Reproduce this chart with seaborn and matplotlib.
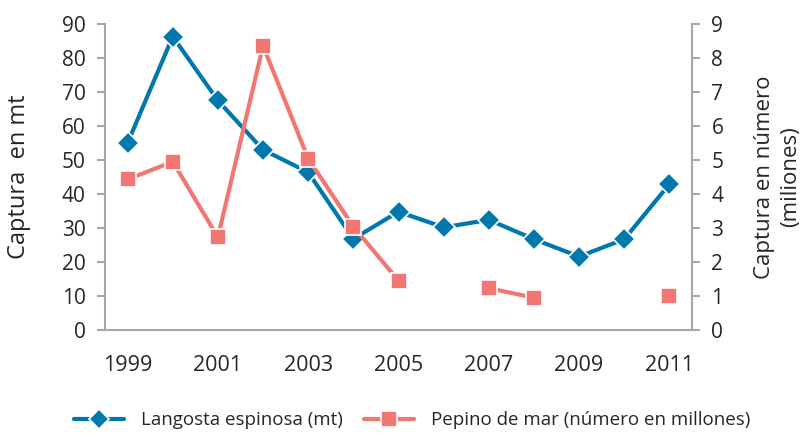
import numpy as np
import pandas as pd
import matplotlib
matplotlib.use("Agg")
import matplotlib.pyplot as plt
import seaborn as sns
from matplotlib.lines import Line2D

years = [1999, 2000, 2001, 2002, 2003, 2004, 2005, 2006, 2007, 2008, 2009, 2010, 2011]
langosta = [55, 86.3, 67.5, 53, 46.4, 26.8, 34.8, 30.2, 32.4, 26.7, 21.6, 26.7, 42.9]
pepino = [4.43, 4.95, 2.73, 8.36, 5.04, 3.04, 1.45, np.nan, 1.23, 0.95, np.nan, np.nan, 1.01]
left_ticks = [0, 10, 20, 30, 40, 50, 60, 70, 80, 90]
right_ticks = [0, 1, 2, 3, 4, 5, 6, 7, 8, 9]
label_years = [1999, 2001, 2003, 2005, 2007, 2009, 2011]

sns.set_theme(style="white")
plt.rcParams['font.family'] = ['Open Sans', 'DejaVu Sans']

BLUE = "#0077AD"
PINK = "#F27672"
SPINE = "#A6A6A6"

pos = np.arange(len(years))
df_l = pd.DataFrame({"pos": pos, "val": langosta})
pep = np.array(pepino, dtype=float)
seg = np.cumsum(np.isnan(pep))
df_p = pd.DataFrame({"pos": pos, "val": pep, "seg": seg}).dropna()

fig = plt.figure(figsize=(8.11, 4.36), dpi=100)
ax = fig.add_axes([105/811, 1-330/436, (692-105)/811, (330-24)/436])
ax2 = ax.twinx()

sns.lineplot(data=df_l, x="pos", y="val", ax=ax, color=BLUE, linewidth=3,
             marker="D", markersize=11, markeredgecolor="white", markeredgewidth=1.2)
sns.lineplot(data=df_p, x="pos", y="val", units="seg", estimator=None, ax=ax2,
             color=PINK, linewidth=3, marker="s", markersize=12,
             markeredgecolor="white", markeredgewidth=1.2)

for a in (ax, ax2):
    a.set_xlim(-0.5, len(years) - 0.5)
    a.set_xlabel("")
    for s in a.spines.values():
        s.set_visible(False)

ax.set_ylim(0, 90)
ax2.set_ylim(0, 9)
ax.set_yticks(left_ticks)
ax2.set_yticks(right_ticks)
ax.set_yticklabels([str(t) for t in left_ticks], fontsize=15)
ax2.set_yticklabels([str(t) for t in right_ticks], fontsize=15)

ax.spines['left'].set_visible(True)
ax.spines['bottom'].set_visible(True)
ax2.spines['right'].set_visible(True)
for s in (ax.spines['left'], ax.spines['bottom'], ax2.spines['right']):
    s.set_color(SPINE)
    s.set_linewidth(1.5)

ax.set_xticks(np.arange(-0.5, len(years), 1.0))
ax.set_xticklabels([])
ax.set_xticks([years.index(y) for y in label_years], minor=True)
ax.set_xticklabels([str(y) for y in label_years], minor=True, fontsize=15.5)
ax.tick_params(axis="x", which="major", length=6, width=1.5, color=SPINE, direction="out")
ax.tick_params(axis="x", which="minor", length=0, pad=18)
ax.tick_params(axis="y", length=6, width=1.5, color=SPINE, direction="out", left=True, pad=8)
ax2.tick_params(axis="y", length=6, width=1.5, color=SPINE, direction="out", right=True, pad=8)

ax.set_ylabel("Captura  en mt", fontsize=17, labelpad=22)
ax2.set_ylabel("Captura en número\n(miliones)", fontsize=16, labelpad=22, linespacing=1.35)

handles = [
    Line2D([0], [0], color=BLUE, linewidth=3, marker="D", markersize=10,
           markeredgecolor="white", markeredgewidth=1.2),
    Line2D([0], [0], color=PINK, linewidth=3, marker="s", markersize=11,
           markeredgecolor="white", markeredgewidth=1.2),
]
fig.legend(handles, ["Langosta espinosa (mt)", "Pepino de mar (número en millones)"],
           loc="center", bbox_to_anchor=(0.508, 0.036), ncol=2, frameon=False,
           fontsize=13.5, handlelength=2.7, handletextpad=0.9, columnspacing=1.1)

fig.savefig("out.png", dpi=100)
